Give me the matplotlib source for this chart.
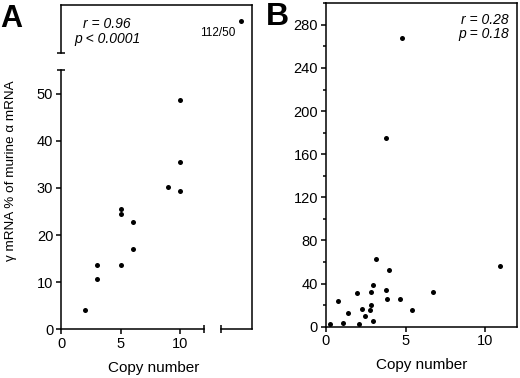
import matplotlib
matplotlib.use("Agg")
import matplotlib.pyplot as plt

plt.rcParams['font.family'] = ['Liberation Sans', 'DejaVu Sans']

# ---- data ----
a_copy = [2, 3, 3, 5, 5, 5, 6, 6, 9, 10, 10, 10]
a_pct = [4.1, 10.7, 13.7, 13.6, 24.5, 25.5, 17.0, 22.8, 30.1, 29.4, 35.5, 48.6]
a_out_copy = [50]
a_out_pct = [112]
a_xticks = [0, 5, 10]
a_yticks = [0, 10, 20, 30, 40, 50]

b_copy = [0.29, 0.78, 1.09, 1.39, 1.99, 2.07, 2.28, 2.46, 2.75, 2.86, 2.86, 2.96,
          2.96, 3.17, 3.75, 3.87, 3.95, 4.66, 5.42, 6.73, 10.89, 4.76, 3.75]
b_pct = [2.2, 24.1, 3.7, 13.0, 30.9, 2.2, 16.7, 9.6, 15.5, 32.4, 20.4, 38.9,
         5.0, 62.4, 34.0, 25.6, 52.5, 25.6, 15.7, 32.4, 56.5, 267.6, 174.7]
b_xticks = [0, 5, 10]
b_yticks = [0, 40, 80, 120, 160, 200, 240, 280]

W, H = 520, 378
fig = plt.figure(figsize=(5.2, 3.78), dpi=100)


def rect(x0, y0, x1, y1):
    # pixel box (top-left origin) -> figure fraction rect
    return [x0 / W, 1 - y1 / H, (x1 - x0) / W, (y1 - y0) / H]


LW = 1.1
TICKFS = 10.5
MS = 3.6

# ---------------- Panel A ----------------
axA = fig.add_axes(rect(61, 70, 204.3, 329.3))
axA.plot(a_copy, a_pct, 'o', color='black', ms=MS, mew=0, clip_on=False)
axA.set_xlim(0, 12)
axA.set_ylim(0, 55)
axA.set_xticks(a_xticks)
axA.set_yticks(a_yticks)
for s in ['top', 'right']:
    axA.spines[s].set_visible(False)
for s in ['left', 'bottom']:
    axA.spines[s].set_linewidth(LW)
axA.tick_params(direction='out', length=3.6, width=LW, pad=2, labelsize=TICKFS)
axA.plot([0], [1], marker='_', ms=6, mew=LW, color='black',
         transform=axA.transAxes, clip_on=False)
axA.plot([1], [0], marker='|', ms=6, mew=LW, color='black',
         transform=axA.transAxes, clip_on=False)
axA.patch.set_alpha(0)

# frame box for broken axes
axBox = fig.add_axes(rect(61, 5, 252.3, 329.3))
axBox.set_xlim(0, 1)
axBox.set_ylim(0, 1)
axBox.set_xticks([])
axBox.set_yticks([])
axBox.patch.set_alpha(0)
axBox.spines['left'].set_visible(False)
axBox.spines['bottom'].set_visible(False)
for s in ['top', 'right']:
    axBox.spines[s].set_linewidth(LW)
ly = (329.3 - 53) / (329.3 - 5)
bx = (220.7 - 61) / (252.3 - 61)
axBox.plot([0, 0], [ly, 1], color='black', lw=LW, clip_on=False,
           solid_capstyle='projecting')
axBox.plot([0], [ly], marker='_', ms=6, mew=LW, color='black', clip_on=False)
axBox.plot([bx, 1], [0, 0], color='black', lw=LW, clip_on=False,
           solid_capstyle='projecting')
axBox.plot([bx], [0], marker='|', ms=6, mew=LW, color='black', clip_on=False)

# outlier (beyond the axis breaks)
axOut = fig.add_axes(rect(229.7, 9.7, 251.7, 31.7))
axOut.set_xlim(49, 51)
axOut.set_ylim(110, 114)
axOut.plot(a_out_copy, a_out_pct, 'o', color='black', ms=MS, mew=0, clip_on=False)
axOut.axis('off')
fig.text(218 / W, 1 - 33 / H, f"{a_out_pct[0]}/{a_out_copy[0]}",
         ha='center', va='center', fontsize=8.5)

fig.text(107 / W, 1 - 24 / H, "r = 0.96", style='italic', ha='center',
         va='center', fontsize=10)
fig.text(107 / W, 1 - 38.5 / H, "p < 0.0001", style='italic', ha='center',
         va='center', fontsize=10)

fig.text(154 / W, 1 - 368 / H, "Copy number", ha='center', va='center',
         fontsize=11)
fig.text(11 / W, 1 - 171 / H, "γ mRNA % of murine α mRNA", rotation=90,
         ha='center', va='center', fontsize=9.7)
fig.text(0.5 / W, 1 - 27 / H, "A", fontweight='bold', fontsize=22,
         ha='left', va='baseline')

# ---------------- Panel B ----------------
axB = fig.add_axes(rect(325.7, 3.3, 517.3, 326.7))
axB.plot(b_copy, b_pct, 'o', color='black', ms=MS, mew=0, clip_on=False)
axB.set_xlim(0, 12)
axB.set_ylim(0, 300)
axB.set_xticks(b_xticks)
axB.set_yticks(b_yticks)
axB.set_yticks([v + 20 for v in b_yticks], minor=True)
for s in axB.spines.values():
    s.set_linewidth(LW)
axB.tick_params(direction='out', length=3.6, width=LW, pad=2, labelsize=TICKFS)
axB.tick_params(axis='y', which='minor', direction='out', length=2.2, width=LW)
axB.text(0.955, 0.947, "r = 0.28", style='italic', ha='right', va='center',
         fontsize=10, transform=axB.transAxes)
axB.text(0.955, 0.905, "p = 0.18", style='italic', ha='right', va='center',
         fontsize=10, transform=axB.transAxes)
fig.text(421.5 / W, 1 - 365 / H, "Copy number", ha='center', va='center',
         fontsize=11)
fig.text(266 / W, 1 - 25 / H, "B", fontweight='bold', fontsize=23,
         ha='left', va='baseline')

fig.savefig("out.png", dpi=100)
